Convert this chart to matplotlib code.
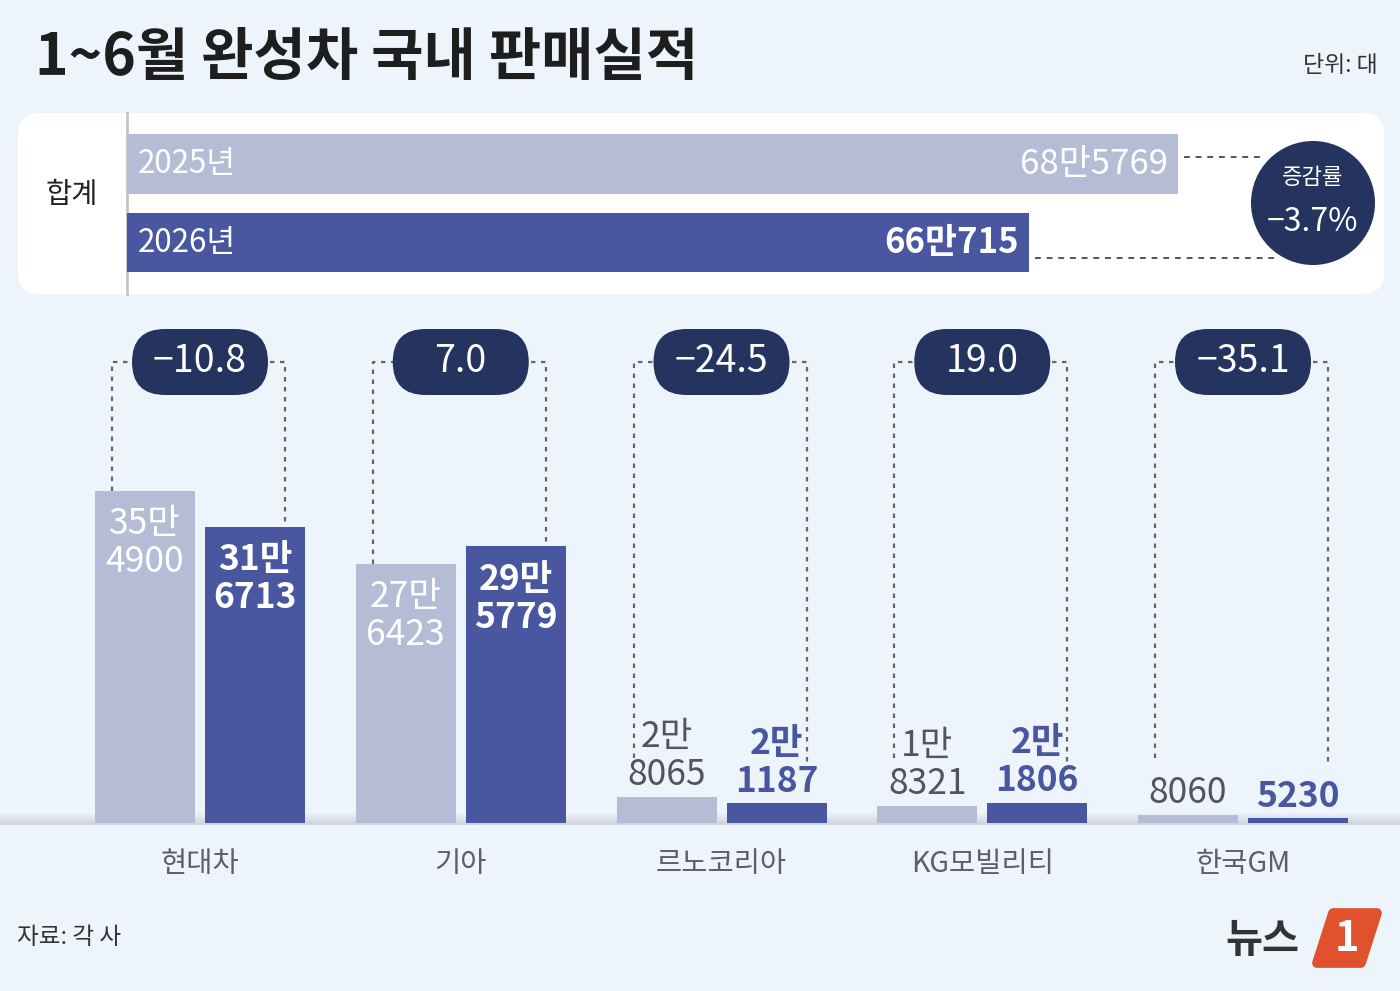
import matplotlib.pyplot as plt
import matplotlib.transforms as mtrans
from matplotlib.patches import FancyBboxPatch, Circle, Polygon
from matplotlib.colors import LinearSegmentedColormap
import numpy as np

plt.rcParams['font.family'] = ['Noto Sans CJK KR', 'DejaVu Sans']

# data
makers = ['현대차', '기아', '르노코리아', 'KG모빌리티', '한국GM']
sales_2025 = [354900, 276423, 28065, 18321, 8060]
sales_2026 = [316713, 295779, 21187, 21806, 5230]
change_pct = [-10.8, 7.0, -24.5, 19.0, -35.1]
total_years = ['2025년', '2026년']
total_sales = [685769, 660715]
total_change = -3.7

BG = '#EEF4FC'
LIGHT = '#B5BCD6'
DARK = '#4857A0'
NAVY = '#25335F'
GREY_TXT = '#50555F'


def split_man(v):
    man, rest = divmod(v, 10000)
    return (f'{man}만' if man else ''), f'{rest}'


def fmt_pct(c):
    return f'{c:.1f}'.replace('-', '−')


fig = plt.figure(figsize=(14, 9.91), dpi=100)
fig.patch.set_facecolor(BG)

# pixel coordinate layer for decorations
base = fig.add_axes([0, 0, 1, 1])
base.axis('off')

# baseline shadow band
grad = np.linspace(0, 1, 20).reshape(-1, 1)
cm = LinearSegmentedColormap.from_list('band', [BG, '#CDD2DA'])
base.imshow(grad, extent=[0, 1400, 825, 812], aspect='auto', cmap=cm, zorder=0)

base.set_xlim(0, 1400)
base.set_ylim(991, 0)

# title & notes
base.text(35, 58, '1~6월 완성차 국내 판매실적', fontsize=41, fontweight='bold',
          color='#1E1E1E', va='center', ha='left')
base.text(1378, 66, '단위: 대', fontsize=16.5, color='#333333', va='center', ha='right')
base.text(17, 937, '자료: 각 사', fontsize=17, color='#333333', va='center', ha='left')

# logo
base.text(1262, 940, '뉴스', fontsize=29, fontweight='bold', color='#333333',
          va='center', ha='center')
logo = Polygon([(1333, 913), (1377, 913), (1361, 963), (1317, 963)], closed=True,
               facecolor='#E0522E', edgecolor='#E0522E', lw=7, joinstyle='round')
base.add_patch(logo)
base.text(1347, 939, '1', fontsize=30, fontweight='bold', color='white',
          va='center', ha='center')

# total box
box = FancyBboxPatch((18, 113), 1366, 181, boxstyle='round,pad=0,rounding_size=22',
                     facecolor='white', edgecolor='none', zorder=1)
base.add_patch(box)
base.plot([127, 127], [113, 294], color='#C2C5CA', lw=2, zorder=2)
base.text(72, 195, '합계', fontsize=20.5, color='#222222', va='center', ha='center', zorder=3)

# totals bars
ax_t = fig.add_axes([127 / 1400, (991 - 294) / 991, 1051 / 1400, 181 / 991])
ax_t.patch.set_alpha(0)
ax_t.axis('off')
ax_t.barh(range(2), total_sales, height=0.764, color=[LIGHT, DARK])
ax_t.set_xlim(509000, 685769)
ax_t.set_ylim(1.656, -0.65)
yr_tf = mtrans.blended_transform_factory(ax_t.transAxes, ax_t.transData)
for i, (lab, v) in enumerate(zip(total_years, total_sales)):
    ax_t.text(11 / 1051, i, lab, transform=yr_tf, fontsize=22.5, color='white',
              va='center', ha='left')
    man, rest = split_man(v)
    ax_t.annotate(man + rest, xy=(v, i), xytext=(-10, 0), textcoords='offset pixels',
                  fontsize=25, color='white', va='center', ha='right',
                  fontweight='bold' if i == 1 else 'normal')


def t_px(x, y):
    return base.transData.inverted().transform(ax_t.transData.transform((x, y)))


x_end0, y0 = t_px(total_sales[0], 0)
x_end1, y1 = t_px(total_sales[1], 1)
base.plot([x_end0 + 6, 1265], [y0 - 7, y0 - 7], color='#555555', lw=1.4,
          ls=(0, (3, 3)), zorder=2)
base.plot([x_end1 + 6, 1280], [y1 + 15, y1 + 15], color='#555555', lw=1.4,
          ls=(0, (3, 3)), zorder=2)
base.add_patch(Circle((1313, 203), 62, facecolor=NAVY, edgecolor='none', zorder=4))
base.text(1313, 177, '증감률', fontsize=16, color='white', va='center', ha='center', zorder=5)
base.text(1313, 222, fmt_pct(total_change) + '%', fontsize=23, color='white',
          va='center', ha='center', zorder=5)

# grouped bars
spacing = 260.75
center0 = 200
ax = fig.add_axes([0, (991 - 823) / 991, 1, (823 - 300) / 991])
ax.patch.set_alpha(0)
ax.axis('off')
x = np.arange(len(makers))
w = 100 / spacing
off = 55 / spacing
ax.bar(x - off, sales_2025, w, color=LIGHT)
ax.bar(x + off, sales_2026, w, color=DARK)
ax.set_xlim(-center0 / spacing, (1400 - center0) / spacing)
ax.set_ylim(0, 559000)

for i in range(len(makers)):
    for xpos, v, is_new in [(i - off, sales_2025[i], False), (i + off, sales_2026[i], True)]:
        top, bot = split_man(v)
        wt = 'bold' if is_new else 'normal'
        if v > 100000:
            col = 'white'
            offs = (-33, -71)
        else:
            col = DARK if is_new else GREY_TXT
            offs = (60, 22)
        if top:
            ax.annotate(top, xy=(xpos, v), xytext=(0, offs[0]), textcoords='offset pixels',
                        fontsize=25.5, color=col, fontweight=wt, ha='center', va='center')
        ax.annotate(bot, xy=(xpos, v), xytext=(0, offs[1]), textcoords='offset pixels',
                    fontsize=25.5, color=col, fontweight=wt, ha='center', va='center')


def g_px(xd, yd):
    return base.transData.inverted().transform(ax.transData.transform((xd, yd)))


pill_y = 362
for i in range(len(makers)):
    cx, _ = g_px(i, 0)
    lx, ly = g_px(i - off, max(sales_2025[i], 70000))
    rx, ry = g_px(i + off, max(sales_2026[i], 65000))
    lx -= 33
    rx += 30
    base.plot([lx, lx, cx], [ly, pill_y, pill_y], color='#666666', lw=1.6,
              ls=(0, (2, 2.5)), zorder=2)
    base.plot([cx, rx, rx], [pill_y, pill_y, ry], color='#666666', lw=1.6,
              ls=(0, (2, 2.5)), zorder=2)
    pill = FancyBboxPatch((cx - 68, pill_y - 33), 136, 66,
                          boxstyle='round,pad=0,rounding_size=33',
                          facecolor=NAVY, edgecolor='none', zorder=3)
    base.add_patch(pill)
    base.text(cx, pill_y, fmt_pct(change_pct[i]), fontsize=27, color='white',
              va='center', ha='center', zorder=4)
    base.text(cx, 864, makers[i], fontsize=20.5, color='#5A5F6A', va='center', ha='center')

fig.savefig('out.png', dpi=100, facecolor=BG)
